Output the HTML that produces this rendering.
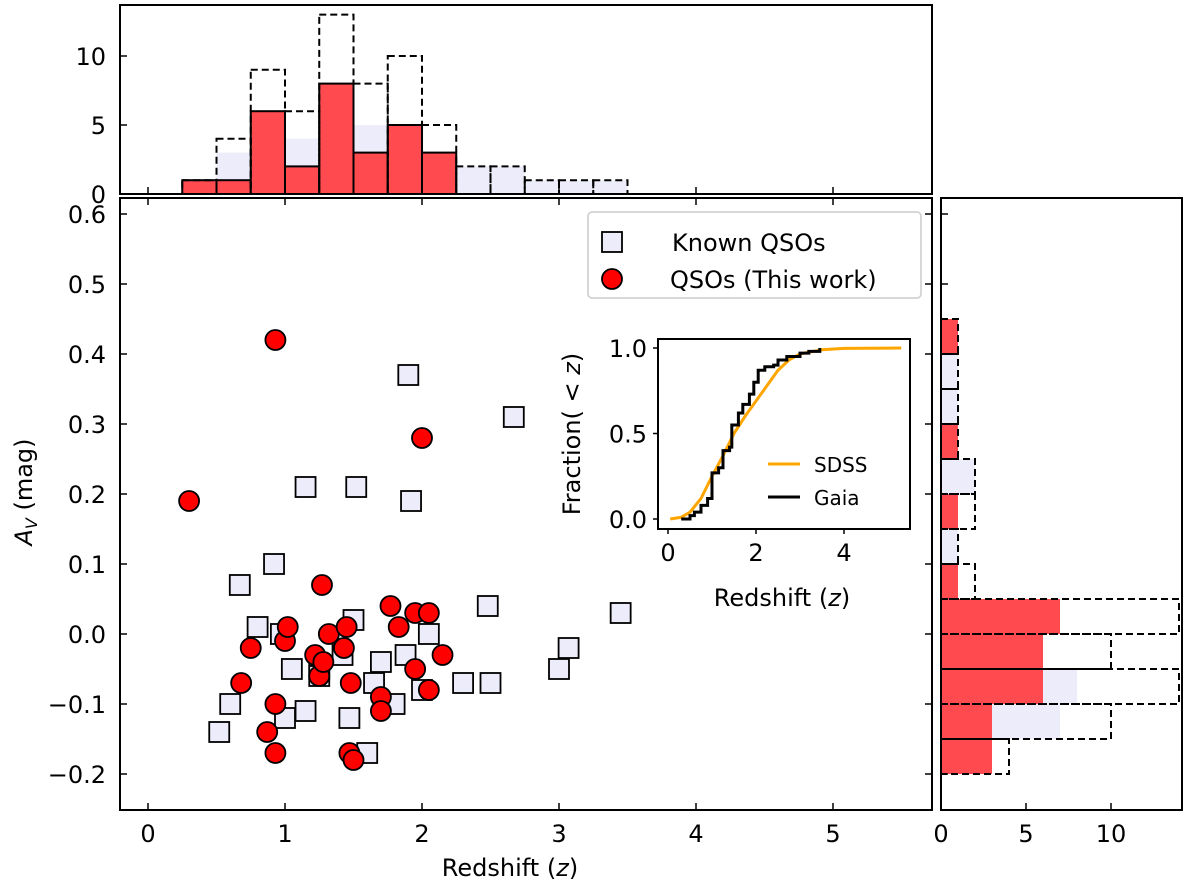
<!DOCTYPE html>
<html><head><meta charset="utf-8"><style>
body{margin:0;background:#fff}
text{font-family:"DejaVu Sans","Liberation Sans",sans-serif;fill:#000}
</style></head><body>
<svg id="c" width="1200" height="889" xmlns="http://www.w3.org/2000/svg"></svg>
<script>
// ---- data ----
const knownZ=[0.52,0.6,0.67,0.8,0.92,0.97,1.0,1.05,1.15,1.15,1.25,1.25,1.42,1.47,1.5,1.52,1.6,1.65,1.7,1.8,1.88,1.9,1.92,2.0,2.05,2.3,2.5,2.48,2.67,3.0,3.07,3.45];
const knownAv=[-0.14,-0.1,0.07,0.01,0.1,0,-0.12,-0.05,-0.11,0.21,-0.05,-0.06,-0.03,-0.12,0.02,0.21,-0.17,-0.07,-0.04,-0.1,-0.03,0.37,0.19,-0.08,0,-0.07,-0.07,0.04,0.31,-0.05,-0.02,0.03];
const qsoZ=[0.3,0.93,2.0,0.68,0.75,0.87,0.93,0.93,1.0,1.02,1.22,1.25,1.27,1.28,1.32,1.45,1.43,1.48,1.47,1.5,1.7,1.7,1.77,1.83,1.95,1.95,2.05,2.05,2.15];
const qsoAv=[0.19,0.42,0.28,-0.07,-0.02,-0.14,-0.1,-0.17,-0.01,0.01,-0.03,-0.06,0.07,-0.04,0,0.01,-0.02,-0.07,-0.17,-0.18,-0.09,-0.11,0.04,0.01,0.03,-0.05,0.03,-0.08,-0.03];
const zBinStart=0.25, zBinW=0.25;
const zHistKnown=[0,3,3,4,5,5,5,2,2,2,1,1,1];
const zHistNew=[1,1,6,2,8,3,5,3,0,0,0,0,0];
const zHistAll=[1,4,9,6,13,8,10,5,2,2,1,1,1];
const avBinStart=-0.2, avBinW=0.05;
const avHistKnown=[1,7,8,4,7,1,1,1,2,0,1,1,0];
const avHistNew=[3,3,6,6,7,1,0,1,0,1,0,0,1];
const avHistAll=[4,10,14,10,14,2,1,2,2,1,1,1,1];
const sdssZ=[0.05,0.3,0.5,0.75,1,1.25,1.5,1.75,2,2.25,2.5,2.75,3,3.5,4,5.3];
const sdssF=[0,0.01,0.04,0.12,0.25,0.37,0.5,0.6,0.69,0.78,0.87,0.93,0.965,0.99,0.998,1.0];
const gaiaZ=[0.3,0.5,0.6,0.75,0.9,1.0,1.15,1.25,1.4,1.45,1.6,1.7,1.85,1.95,2.05,2.2,2.4,2.5,2.7,3.0,3.2,3.45];
const gaiaF=[0,0.02,0.04,0.08,0.12,0.27,0.3,0.4,0.42,0.55,0.62,0.67,0.73,0.8,0.87,0.89,0.9,0.93,0.95,0.97,0.98,1.0];
const xTicks=[0,1,2,3,4,5];
const yTicks=[-0.2,-0.1,0,0.1,0.2,0.3,0.4,0.5,0.6];
const yTickLabels=["\u22120.2","\u22120.1","0.0","0.1","0.2","0.3","0.4","0.5","0.6"];
const topTicks=[0,5,10];
const rightTicks=[0,5,10];
const insXT=[0,2,4];
const insYT=[0,0.5,1];
const insYL=["0.0","0.5","1.0"];
// ---- scales ----
const X=z=>148+137*z;
const Y=a=>634-700*a;
const HY=c=>194-13.8*c;
const HX=c=>941+17*c;
const IX=z=>668+44*z;
const IY=f=>519-171*f;
const svg=document.getElementById('c');
const NS='http://www.w3.org/2000/svg';
function mk(t,a,p){const e=document.createElementNS(NS,t);for(const k in a)e.setAttribute(k,a[k]);(p||svg).appendChild(e);return e;}
function txt(s,x,y,anchor,size,p){const e=mk('text',{x:x,y:y,'text-anchor':anchor,'font-size':size},p);e.textContent=s;return e;}
const LAV='#ececfa', HRED='#ff4b4f';
const FS=24;
// top histogram
const gT=mk('g',{});


zHistKnown.forEach((c,i)=>{const x0=X(zBinStart+i*zBinW),x1=X(zBinStart+(i+1)*zBinW);if(c>0){const r=mk('rect',{x:x0,y:HY(c),width:x1-x0,height:HY(0)-HY(c),fill:LAV},gT);}});
zHistNew.forEach((c,i)=>{const x0=X(zBinStart+i*zBinW),x1=X(zBinStart+(i+1)*zBinW);if(c>0){const r=mk('rect',{x:x0,y:HY(c),width:x1-x0,height:HY(0)-HY(c),fill:HRED,stroke:'#000','stroke-width':2},gT);}});
zHistAll.forEach((c,i)=>{const x0=X(zBinStart+i*zBinW),x1=X(zBinStart+(i+1)*zBinW);const r=mk('rect',{x:x0,y:HY(c),width:x1-x0,height:HY(0)-HY(c),fill:'none',stroke:'#000','stroke-width':2,'stroke-dasharray':'7,4'},gT);});
mk('rect',{x:120,y:5,width:812,height:189,fill:'none',stroke:'#000','stroke-width':2},gT);
topTicks.forEach(t=>{mk('line',{x1:120,x2:127,y1:HY(t),y2:HY(t),stroke:'#000','stroke-width':1.5},gT);txt(String(t),106,HY(t)+9,'end',FS,gT);});
xTicks.forEach(t=>{mk('line',{x1:X(t),x2:X(t),y1:194,y2:187,stroke:'#000','stroke-width':1.5},gT);});
// right histogram
const gR=mk('g',{});


avHistKnown.forEach((c,i)=>{const y1=Y(avBinStart+i*avBinW),y0=Y(avBinStart+(i+1)*avBinW);if(c>0){const r=mk('rect',{x:HX(0),y:y0,width:HX(c)-HX(0),height:y1-y0,fill:LAV},gR);}});
avHistNew.forEach((c,i)=>{const y1=Y(avBinStart+i*avBinW),y0=Y(avBinStart+(i+1)*avBinW);if(c>0){const r=mk('rect',{x:HX(0),y:y0,width:HX(c)-HX(0),height:y1-y0,fill:HRED},gR);}});
avHistAll.forEach((c,i)=>{const y1=Y(avBinStart+i*avBinW),y0=Y(avBinStart+(i+1)*avBinW);const r=mk('rect',{x:HX(0),y:y0,width:HX(c)-HX(0),height:y1-y0,fill:'none',stroke:'#000','stroke-width':2,'stroke-dasharray':'7,4'},gR);});
mk('rect',{x:941,y:198,width:241,height:612,fill:'none',stroke:'#000','stroke-width':2},gR);
rightTicks.forEach(t=>{mk('line',{x1:HX(t),x2:HX(t),y1:810,y2:803,stroke:'#000','stroke-width':1.5},gR);txt(String(t),HX(t),842,'middle',FS,gR);});
yTicks.forEach(t=>{mk('line',{x1:941,x2:948,y1:Y(t),y2:Y(t),stroke:'#000','stroke-width':1.5},gR);});
// main scatter
const gM=mk('g',{});


mk('rect',{x:120,y:198,width:812,height:612,fill:'none',stroke:'#000','stroke-width':2},gM);
xTicks.forEach(t=>{mk('line',{x1:X(t),x2:X(t),y1:810,y2:803,stroke:'#000','stroke-width':1.5},gM);mk('line',{x1:X(t),x2:X(t),y1:198,y2:205,stroke:'#000','stroke-width':1.5},gM);txt(String(t),X(t),842,'middle',FS,gM);});
yTicks.forEach((t,i)=>{mk('line',{x1:120,x2:127,y1:Y(t),y2:Y(t),stroke:'#000','stroke-width':1.5},gM);mk('line',{x1:932,x2:925,y1:Y(t),y2:Y(t),stroke:'#000','stroke-width':1.5},gM);txt(yTickLabels[i],106,Y(t)+9,'end',FS,gM);});
knownZ.forEach((z,i)=>{const r=mk('rect',{x:X(z)-10,y:Y(knownAv[i])-10,width:20,height:20,fill:LAV,stroke:'#000','stroke-width':1.8},gM);});
qsoZ.forEach((z,i)=>{const c=mk('circle',{cx:X(z),cy:Y(qsoAv[i]),r:10,fill:'#f00',stroke:'#000','stroke-width':1.8},gM);});
const xl=txt('',510,876,'middle',FS,gM);xl.innerHTML='Redshift (<tspan font-style="italic">z</tspan>)';

const yl=txt('',0,0,'middle',FS,gM);yl.setAttribute('transform','translate(32,492) rotate(-90)');yl.innerHTML='<tspan font-style="italic">A</tspan><tspan font-style="italic" font-size="16" dy="5">V</tspan><tspan dy="-5"> (mag)</tspan>';

// legend
const gL=mk('g',{});


mk('rect',{x:588,y:212,width:333,height:86,rx:4,fill:'#fff',stroke:'#ccc','stroke-width':1.5},gL);
mk('rect',{x:602,y:232,width:20,height:20,fill:LAV,stroke:'#000','stroke-width':1.8},gL);
txt('Known QSOs',672,251,'start',FS,gL);
mk('circle',{cx:612,cy:279,r:10,fill:'#f00',stroke:'#000','stroke-width':1.8},gL);
txt('QSOs (This work)',670,288,'start',FS,gL);
// inset
const gI=mk('g',{});


mk('rect',{x:658,y:339,width:252,height:190,fill:'#fff',stroke:'#000','stroke-width':2},gI);
let sp='';sdssZ.forEach((z,i)=>{sp+=(i?'L':'M')+IX(z)+','+IY(sdssF[i]);});
const sl=mk('path',{d:sp,fill:'none',stroke:'#ffa500','stroke-width':3},gI);
let gp='';gaiaZ.forEach((z,i)=>{if(i===0)gp+='M'+IX(z)+','+IY(gaiaF[0]);else gp+='H'+IX(z)+'V'+IY(gaiaF[i]);});
const gl=mk('path',{d:gp,fill:'none',stroke:'#000','stroke-width':3},gI);
insXT.forEach(t=>{mk('line',{x1:IX(t),x2:IX(t),y1:529,y2:534,stroke:'#000','stroke-width':1.5},gI);txt(String(t),IX(t),561,'middle',FS,gI);});
insYT.forEach((t,i)=>{mk('line',{x1:658,x2:653,y1:IY(t),y2:IY(t),stroke:'#000','stroke-width':1.5},gI);txt(insYL[i],647,IY(t)+9,'end',FS,gI);});
const ixl=txt('',782,606,'middle',FS,gI);ixl.innerHTML='Redshift (<tspan font-style="italic">z</tspan>)';
const iyl=txt('',0,0,'middle',FS,gI);iyl.setAttribute('transform','translate(580,434) rotate(-90)');iyl.innerHTML='Fraction( &lt; <tspan font-style="italic">z</tspan>)';
mk('line',{x1:768,x2:800,y1:464,y2:464,stroke:'#ffa500','stroke-width':3},gI);
txt('SDSS',814,472,'start',20,gI);
mk('line',{x1:768,x2:800,y1:497,y2:497,stroke:'#000','stroke-width':3},gI);
txt('Gaia',814,505,'start',20,gI);
</script>
</body></html>
